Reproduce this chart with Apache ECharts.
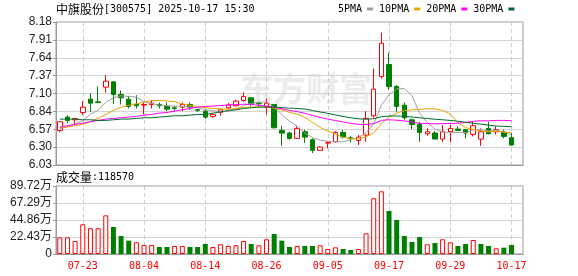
<!DOCTYPE html>
<html><head><meta charset="utf-8">
<script src="https://cdn.jsdelivr.net/npm/echarts@6/dist/echarts.min.js"></script>
<style>html,body{margin:0;padding:0;background:#fff}#c{width:578px;height:276px}</style>
</head><body><div id="c"></div>
<script>
const dates = ['07-18','07-21','07-22','07-23','07-24','07-25','07-28','07-29','07-30','07-31',
'08-01','08-04','08-05','08-06','08-07','08-08','08-11','08-12','08-13','08-14',
'08-15','08-18','08-19','08-20','08-21','08-22','08-25','08-26','08-27','08-28',
'08-29','09-01','09-02','09-03','09-04','09-05','09-08','09-09','09-10','09-11',
'09-12','09-15','09-16','09-17','09-18','09-19','09-22','09-23','09-24','09-25',
'09-26','09-29','09-30','10-09','10-10','10-13','10-14','10-15','10-16','10-17'];
const opens = [6.55,6.75,6.71,6.82,7.02,6.98,7.20,7.28,7.09,7.02,6.94,6.93,6.94,6.94,6.91,6.89,6.90,6.94,6.86,6.84,
6.76,6.82,6.89,6.92,7.00,7.04,6.96,6.90,6.94,6.55,6.51,6.43,6.53,6.41,6.25,6.36,6.38,6.52,6.44,6.40,
6.48,6.77,7.36,7.54,7.21,6.93,6.71,6.64,6.50,6.51,6.42,6.53,6.57,6.56,6.49,6.42,6.58,6.53,6.52,6.44];
const closes = [6.68,6.70,6.73,6.90,6.96,6.97,7.29,7.09,7.04,6.91,6.92,6.94,6.96,6.92,6.87,6.88,6.94,6.90,6.85,6.75,
6.79,6.86,6.93,6.99,7.06,6.94,6.95,6.96,6.59,6.51,6.43,6.58,6.45,6.25,6.30,6.37,6.52,6.45,6.43,6.45,
6.73,7.17,7.86,7.21,6.91,6.74,6.64,6.52,6.53,6.42,6.53,6.58,6.55,6.51,6.62,6.53,6.50,6.56,6.46,6.33];
const lows = [6.52,6.66,6.64,6.78,6.83,6.96,7.12,6.95,6.94,6.88,6.88,6.79,6.88,6.88,6.84,6.84,6.84,6.86,6.83,6.72,
6.74,6.77,6.87,6.91,6.98,6.91,6.91,6.79,6.58,6.32,6.41,6.42,6.36,6.21,6.24,6.28,6.37,6.43,6.37,6.33,
6.38,6.74,7.33,7.16,6.83,6.71,6.57,6.38,6.47,6.42,6.38,6.38,6.54,6.43,6.46,6.32,6.49,6.49,6.43,6.32];
const highs = [6.69,6.78,6.74,6.99,7.11,7.21,7.38,7.29,7.15,7.07,7.08,6.97,7.01,6.97,6.97,6.92,6.97,6.97,6.87,6.86,
6.80,6.88,6.96,7.01,7.12,7.05,6.98,7.03,6.95,6.62,6.53,6.61,6.56,6.43,6.31,6.38,6.54,6.56,6.47,6.48,
6.84,7.48,8.02,7.72,7.23,6.97,6.73,6.68,6.58,6.54,6.63,6.64,6.61,6.57,6.68,6.58,6.68,6.61,6.56,6.51];
const volumes = [220000,220000,172000,392000,340000,340000,510000,356000,237000,176000,
154000,119000,119000,92000,92000,106000,106000,92000,92000,132000,
92000,128000,106000,115000,171000,132000,115000,194000,264000,176000,
92000,106000,106000,106000,115000,66000,88000,66000,53000,66000,
273000,735000,827000,567000,449000,237000,158000,224000,128000,145000,
194000,154000,106000,132000,185000,132000,106000,75000,83000,118570];
const ma5 = [6.57,6.61,6.65,6.70,6.794,6.852,6.970,7.042,7.070,7.060,7.050,6.980,6.954,6.930,6.922,6.914,6.914,6.902,6.888,6.864,
6.846,6.830,6.836,6.864,6.926,6.956,6.974,6.980,6.900,6.790,6.688,6.614,6.512,6.444,6.402,6.390,6.378,6.378,6.414,6.444,
6.516,6.646,6.928,7.084,7.176,7.178,7.072,6.804,6.668,6.570,6.528,6.516,6.522,6.518,6.558,6.558,6.542,6.544,6.534,6.476];
const ma10 = [6.59,6.60,6.62,6.64,6.68,6.73,6.79,6.85,6.90,6.927,6.951,6.975,6.998,7.000,6.991,6.982,6.947,6.928,6.909,6.893,
6.880,6.872,6.869,6.876,6.895,6.901,6.902,6.908,6.882,6.858,6.822,6.794,6.746,6.672,6.596,6.539,6.496,6.445,6.429,6.423,
6.453,6.512,6.653,6.749,6.810,6.847,6.859,6.866,6.876,6.873,6.853,6.794,6.663,6.593,6.564,6.543,6.529,6.533,6.526,6.517];
const ma20 = [6.60,6.62,6.64,6.66,6.68,6.70,6.72,6.73,6.74,6.75,6.76,6.78,6.79,6.81,6.82,6.84,6.86,6.88,6.90,6.910,
6.916,6.924,6.934,6.938,6.943,6.942,6.925,6.918,6.896,6.876,6.851,6.833,6.808,6.774,6.746,6.720,6.699,6.677,6.656,6.641,
6.638,6.653,6.700,6.711,6.703,6.693,6.677,6.656,6.653,6.648,6.653,6.653,6.658,6.671,6.687,6.695,6.694,6.700,6.701,6.695];
const ma30 = [6.72,6.72,6.72,6.71,6.71,6.70,6.70,6.71,6.72,6.72,6.73,6.74,6.74,6.75,6.76,6.77,6.77,6.78,6.79,6.79,
6.81,6.83,6.85,6.86,6.88,6.89,6.90,6.90,6.90,6.893,6.884,6.880,6.871,6.849,6.827,6.807,6.782,6.760,6.740,6.725,
6.718,6.726,6.756,6.766,6.767,6.762,6.752,6.740,6.729,6.718,6.710,6.700,6.688,6.672,6.657,6.643,6.629,6.615,6.611,6.605];
const priceTicks = ['6.03','6.30','6.57','6.84','7.10','7.37','7.64','7.91','8.18'];
const volTicks = ['0','22.43万','44.86万','67.29万','89.72万'];
const stockName = '中旗股份';
const stockInfo = '[300575] 2025-10-17 15:30';

const RED = '#ff0000', GREEN = '#008000';
const pMin = parseFloat(priceTicks[0]), pMax = parseFloat(priceTicks[priceTicks.length - 1]);
const pInt = (pMax - pMin) / (priceTicks.length - 1);
const vMax = parseFloat(volTicks[volTicks.length - 1]) * 10000;
const vInt = vMax / (volTicks.length - 1);
const cats = dates.concat(['']);
const showIdx = (i) => i % 8 === 3;

const kData = opens.map((o, i) => [o, closes[i], lows[i], highs[i]]);
const volData = volumes.map((v, i) => {
  const up = i === 0 || closes[i] >= closes[i - 1];
  return { value: v, itemStyle: up ? { color: '#ffffff', borderColor: RED, borderWidth: 1 } : { color: GREEN, borderColor: GREEN, borderWidth: 0 } };
});

const axisFont = { fontFamily: 'Liberation Sans, Noto Sans CJK SC, sans-serif', fontSize: 12, color: '#222' };
const monoFont = 'DejaVu Sans Mono, Liberation Mono, monospace';
const richTitle = {
  a: { fontFamily: 'Noto Sans CJK SC', fontSize: 12, fontWeight: 'normal', color: '#000', lineHeight: 14 },
  b: { fontFamily: monoFont, fontSize: 10, fontWeight: 'normal', color: '#000', lineHeight: 14 }
};

const chart = echarts.init(document.getElementById('c'), null, { renderer: 'canvas' });
chart.setOption({
  animation: false,
  backgroundColor: '#ffffff',
  title: [
    { text: '{a|' + stockName + '}{b|' + stockInfo + '}', left: 56, top: 2, padding: 0,
      textStyle: { fontWeight: 'normal', rich: richTitle } },
    { text: '{a|成交量}{b|:' + volumes[volumes.length - 1] + '}', left: 56, top: 170, padding: 0,
      textStyle: { fontWeight: 'normal', rich: richTitle } }
  ],
  legend: {
    data: ['5PMA', '10PMA', '20PMA', '30PMA'], left: 338, top: 3, padding: 0, itemGap: 6,
    align: 'right', icon: 'rect', itemWidth: 6, itemHeight: 3,
    textStyle: { fontFamily: monoFont, fontSize: 10, color: '#000', lineHeight: 12 }
  },
  graphic: [{ type: 'text', left: 240, top: 72, silent: true, z: -100,
    style: { text: '东方财富', fontFamily: 'Noto Sans CJK SC', fontWeight: 'bold', fontSize: 33, fill: '#ececec' } }],
  grid: [
    { left: 56, top: 22, width: 467, height: 143, show: true, borderColor: '#999', borderWidth: 1, backgroundColor: 'transparent' },
    { left: 56, top: 186, width: 467, height: 68, show: true, borderColor: '#999', borderWidth: 1, backgroundColor: 'transparent' }
  ],
  xAxis: [
    { type: 'category', gridIndex: 0, data: cats, boundaryGap: true,
      axisLine: { lineStyle: { color: '#999' } }, axisTick: { show: false, alignWithLabel: true },
      axisLabel: { show: false, interval: showIdx },
      splitLine: { show: true, interval: showIdx, alignWithLabel: true, lineStyle: { color: '#cccccc', type: [4, 3] } } },
    { type: 'category', gridIndex: 1, data: cats, boundaryGap: true,
      axisLine: { lineStyle: { color: '#999' } }, axisTick: { show: false, alignWithLabel: true },
      axisLabel: { show: true, interval: showIdx, color: RED, fontFamily: monoFont, fontSize: 10, margin: 7 },
      splitLine: { show: true, interval: showIdx, alignWithLabel: true, lineStyle: { color: '#cccccc', type: [4, 3] } } }
  ],
  yAxis: [
    { type: 'value', gridIndex: 0, min: pMin, max: pMax, interval: pInt, scale: true,
      axisLine: { show: true, lineStyle: { color: '#999' } },
      axisTick: { show: true, length: 3, lineStyle: { color: '#999' } },
      axisLabel: Object.assign({ margin: 4, formatter: (v) => priceTicks[Math.round((v - pMin) / pInt)] || '' }, axisFont),
      splitLine: { show: true, lineStyle: { color: '#d4d4d4' } } },
    { type: 'value', gridIndex: 1, min: 0, max: vMax, interval: vInt,
      axisLine: { show: true, lineStyle: { color: '#999' } },
      axisTick: { show: true, length: 3, lineStyle: { color: '#999' } },
      axisLabel: Object.assign({ margin: 4, formatter: (v) => volTicks[Math.round(v / vInt)] || '' }, axisFont),
      splitLine: { show: true, lineStyle: { color: '#d4d4d4' } } }
  ],
  series: [
    { name: 'K', type: 'candlestick', xAxisIndex: 0, yAxisIndex: 0, data: kData, barWidth: 5,
      itemStyle: { color: '#ffffff', color0: GREEN, borderColor: RED, borderColor0: GREEN, borderColorDoji: RED, borderWidth: 1 } },
    { name: '5PMA', type: 'line', data: ma5, symbol: 'none', lineStyle: { width: 1, color: '#a0a0a0' }, itemStyle: { color: '#a0a0a0' }, z: 3 },
    { name: '10PMA', type: 'line', data: ma10, symbol: 'none', lineStyle: { width: 1, color: '#f0a000' }, itemStyle: { color: '#f0a000' }, z: 3 },
    { name: '20PMA', type: 'line', data: ma20, symbol: 'none', lineStyle: { width: 1, color: '#ff00ff' }, itemStyle: { color: '#ff00ff' }, z: 3 },
    { name: '30PMA', type: 'line', data: ma30, symbol: 'none', lineStyle: { width: 1, color: '#006b30' }, itemStyle: { color: '#006b30' }, z: 3 },
    { name: 'VOL', type: 'bar', xAxisIndex: 1, yAxisIndex: 1, data: volData, barWidth: 5 }
  ]
});
</script></body></html>
